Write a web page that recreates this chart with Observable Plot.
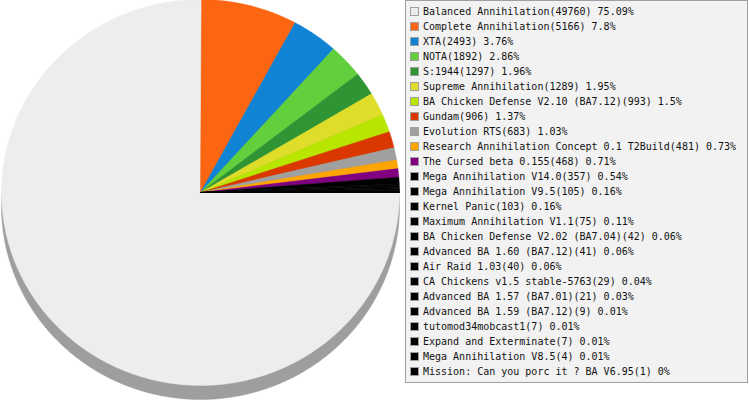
<!DOCTYPE html>
<html>
<head>
<meta charset="utf-8">
<script src="https://cdn.jsdelivr.net/npm/d3@7"></script>
<script src="https://cdn.jsdelivr.net/npm/@observablehq/plot@0.6"></script>
<style>
  html, body { margin: 0; padding: 0; background: #fff; }
  #wrap { position: relative; width: 749px; height: 400px; overflow: hidden; }
  #chart { position: absolute; left: 0; top: 0; }
  #legend {
    position: absolute; left: 405px; top: 0; width: 343px; height: 383px;
    box-sizing: border-box; border: 1px solid #a0a0a0; background: #f2f2f2;
    padding-top: 3px; font-family: "DejaVu Sans Mono", monospace; font-size: 10px; color: #111;
  }
  .row { display: flex; align-items: center; height: 15px; white-space: pre; }
  .sw { box-sizing: border-box; width: 9px; height: 9px; border: 1px solid #a0a0a0; margin-left: 4px; margin-right: 4px; flex: none; }
</style>
</head>
<body>
<div id="wrap"><div id="chart"></div><div id="legend"></div></div>
<script>
const names = [
  "Balanced Annihilation", "Complete Annihilation", "XTA", "NOTA", "S:1944",
  "Supreme Annihilation", "BA Chicken Defense V2.10 (BA7.12)", "Gundam", "Evolution RTS",
  "Research Annihilation Concept 0.1 T2Build", "The Cursed beta 0.155", "Mega Annihilation V14.0",
  "Mega Annihilation V9.5", "Kernel Panic", "Maximum Annihilation V1.1",
  "BA Chicken Defense V2.02 (BA7.04)", "Advanced BA 1.60 (BA7.12)", "Air Raid 1.03",
  "CA Chickens v1.5 stable-5763", "Advanced BA 1.57 (BA7.01)", "Advanced BA 1.59 (BA7.12)",
  "tutomod34mobcast1", "Expand and Exterminate", "Mega Annihilation V8.5",
  "Mission: Can you porc it ? BA V6.95"
];
const counts = [49760, 5166, 2493, 1892, 1297, 1289, 993, 906, 683, 481, 468, 357, 105, 103, 75, 42, 41, 40, 29, 21, 9, 7, 7, 4, 1];
const percents = [75.09, 7.8, 3.76, 2.86, 1.96, 1.95, 1.5, 1.37, 1.03, 0.73, 0.71, 0.54, 0.16, 0.16, 0.11, 0.06, 0.06, 0.06, 0.04, 0.03, 0.01, 0.01, 0.01, 0.01, 0];
const colors = [
  "#ededed", "#fc6511", "#1083d5", "#62cf3c", "#2f9433", "#dddd2a", "#b8e600", "#da3800",
  "#a0a0a0", "#ffa500", "#800080", "#000000", "#000000", "#000000", "#000000", "#000000",
  "#000000", "#000000", "#000000", "#000000", "#000000", "#000000", "#000000", "#000000", "#000000"
];
const sideColor = "#9e9e9e";

// pie layout: starts at 3 o'clock, clockwise
const pie = d3.pie().sort(null).value(d => d.count)
  .startAngle(Math.PI / 2).endAngle(Math.PI / 2 + 2 * Math.PI);
const rows = names.map((name, i) => ({name, count: counts[i], pct: percents[i], color: colors[i]}));
const arcs = pie(rows);

const step = Math.PI / 720;
const slicePts = [];
arcs.forEach(a => {
  const n = Math.max(2, Math.ceil((a.endAngle - a.startAngle) / step));
  slicePts.push({name: a.data.name, x: 0, y: 0});
  for (let k = 0; k <= n; k++) {
    const t = a.startAngle + (a.endAngle - a.startAngle) * k / n;
    slicePts.push({name: a.data.name, x: Math.sin(t), y: Math.cos(t)});
  }
  slicePts.push({name: a.data.name, x: 0, y: 0});
});
const rim = d3.range(0, 721).map(k => ({x: Math.sin(k * step * 2 / 2 * 2 / 2 * 2), y: Math.cos(k * step * 2 / 2 * 2 / 2 * 2)}));

const chart = Plot.plot({
  width: 405,
  height: 400,
  margin: 0,
  x: {domain: [-1, 1], range: [1, 399], axis: null},
  y: {domain: [-1, 1], range: [385, -1], axis: null},
  color: {domain: names, range: colors},
  marks: [
    Plot.line(rim, {x: "x", y: "y", fill: sideColor, stroke: sideColor, strokeWidth: 0.5, dy: 14, curve: "linear"}),
    Plot.line(slicePts, {x: "x", y: "y", z: "name", fill: "name", stroke: "name", strokeWidth: 0.4, curve: "linear"})
  ]
});
document.getElementById("chart").appendChild(chart);

const legend = document.getElementById("legend");
rows.forEach(r => {
  const row = document.createElement("div");
  row.className = "row";
  const sw = document.createElement("span");
  sw.className = "sw";
  sw.style.background = r.color;
  const tx = document.createElement("span");
  tx.textContent = `${r.name}(${r.count}) ${r.pct}%`;
  row.appendChild(sw);
  row.appendChild(tx);
  legend.appendChild(row);
});
</script>
</body>
</html>
